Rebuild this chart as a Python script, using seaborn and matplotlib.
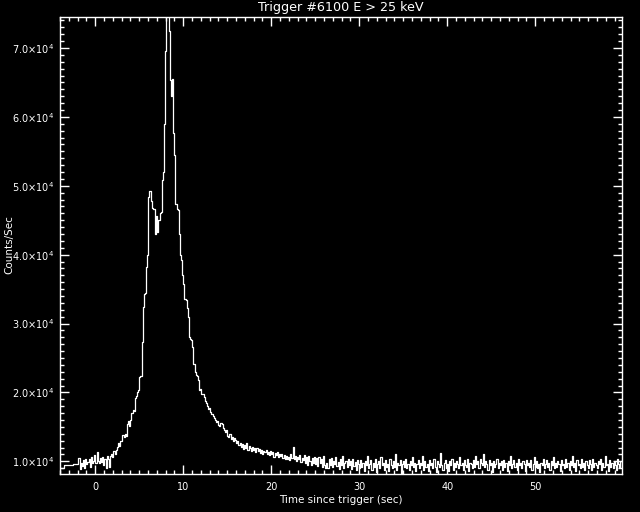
import numpy as np
import pandas as pd
import matplotlib
matplotlib.use("Agg")
import matplotlib.pyplot as plt
from matplotlib.ticker import MultipleLocator, FuncFormatter
import seaborn as sns

# ---- data ----
# coarse pre-trigger bins (start times, counts/sec)
pre_start = [-4.0, -3.6, -2.5]
pre_counts = [9100, 9450, 9600]

# fine bins of 0.128 s starting at -1.9 s
fine_t0 = -1.9
fine_dt = 0.128
fine_counts = [
    10500, 8900, 9700, 9300, 10200, 9000, 10400, 9600, 9900, 10300,
    9200, 10600, 9800, 10100, 10900, 9700, 11300, 10000, 9800, 10500,
    9900, 10700, 9400, 10300, 9100, 10800, 10400, 9200, 10800, 11000,
    10600, 11500, 11000, 11700,
    12100, 12600, 12200, 12900, 13000, 13800, 13500, 14000, 13700, 15400,
    15800, 15200, 16000, 17000, 17400, 17300, 19200, 19500, 20000, 20300,
    22200, 22400, 27300, 32400, 34300, 34500, 38200, 39900, 48400, 49200,
    47800, 46800, 46700, 46600, 43000, 45600, 43300, 45000, 46000, 46200,
    50800, 52000, 59000, 69500, 76000, 75500, 72500, 65300, 63000, 65500,
    57600, 54400, 47400, 46700, 46500, 43000, 39900, 39200, 37000, 35800,
    33600, 33400, 32200, 31000, 28000, 27800, 27600, 26600, 24200, 23000,
    22500, 22400, 21800, 20300, 20500, 19800,
]

# tail bins of 0.128 s starting at 12.18 s
tail_t0 = 12.18
tail_dt = 0.128
tail_counts = [
    19800, 19300, 18700, 18400, 18000, 17600, 17800, 17200, 16900, 16600,
    16300, 16000, 15700, 15900, 15300, 15100, 15600, 15400, 14800, 14600,
    14300, 14500, 13700, 13500, 13900, 13200, 13600, 13000, 13400, 13100,
    12600, 12900, 12300, 12700, 12100, 12500, 11800, 12400, 12000, 12600,
    11700, 12200, 11900, 11500, 12100, 11600, 11900, 11400, 12000, 11500,
    11800, 11200, 11600, 11000, 11500, 11300, 11700, 11100, 11400, 10900,
    11500, 11000, 11300, 10700, 11200, 10900, 11400, 10600, 11000, 10800,
    11000, 10500, 10900, 10300, 10800, 10400, 10700, 10200, 11000, 10500,
    12100, 10300, 10800, 10100, 10600, 10300, 10900, 9900, 10500, 10200,
    10900, 9800, 10600, 9500, 10800, 10100, 9400, 10500, 9700, 10700,
    9600, 10500, 9300, 10600, 9800, 10300, 9200, 10800, 9500, 9100,
    9800, 9000, 10400, 9500, 10500, 9200, 10000, 9600, 10700, 9300,
    9900, 8900, 10300, 9400, 10800, 9100, 9700, 10100, 9200, 10400,
    9500, 10000, 8900, 10300, 9300, 9900, 8800, 10200, 9600, 9100,
    10200, 9200, 9800, 8600, 10000, 9400, 10800, 9000, 9600, 10200,
    8800, 9800, 9200, 10400, 8400, 9600, 10000, 9000, 10600, 9400,
    9800, 8800, 10200, 9200, 9600, 8600, 10400, 9400, 9000, 10000,
    9200, 11000, 8800, 9800, 9400, 10200, 8200, 9600, 10000, 9200,
    10400, 9000, 9600, 8800, 10000, 9400, 10600, 9200, 9800, 8600,
    9600, 10200, 9000, 9800, 9400, 10800, 8800, 10000, 9200, 9600,
    8600, 10200, 9400, 9800, 9000, 10400, 9200, 8400, 10000, 9600,
    9200, 11200, 9400, 8800, 9800, 10200, 9000, 9600, 8600, 10000,
    9400, 10400, 8800, 9800, 9200, 10000, 9600, 9000, 10600, 9400,
    9800, 8800, 10200, 9400, 9200, 10400, 8600, 9800, 9600, 9000,
    10200, 9200, 10800, 9600, 10000, 9000, 10400, 9800, 9400, 11000,
    9200, 10000, 9600, 8800, 10200, 9400, 9800, 8400, 10000, 9200,
    9600, 10400, 9000, 9800, 9400, 10000, 8800, 10200, 9200, 9800,
    8600, 10000, 9400, 10800, 9000, 9600, 10200, 9200, 9800, 8800,
    10400, 9400, 9800, 9000, 10000, 9600, 8600, 10200, 9400, 9800,
    9200, 10200, 8800, 9600, 10600, 9200, 10000, 9000, 9600, 8400,
    9800, 9400, 10400, 9000, 9600, 10200, 9200, 9800, 8800, 10000,
    9400, 10600, 9000, 9800, 9200, 10000, 9600, 8600, 10200, 9400,
    9600, 9000, 10400, 9200, 9800, 8800, 10000, 9400, 10800, 9200,
    9800, 8600, 10200, 9400, 9600, 9000, 10400, 9200, 9800, 8800,
    10000, 9400, 9000, 10200, 9600, 8800, 10400, 9200, 9800, 9400,
    9000, 10000, 9600, 10400, 8800, 9800, 9200, 10800, 9400, 9600,
    8600, 10200, 9200, 9800, 9000, 10000, 9400, 8800, 10400, 9600,
    9200, 10000, 9000, 9800,
]

title = "Trigger #6100 E > 25 keV"
xlabel = "Time since trigger (sec)"
ylabel = "Counts/Sec"

# ---- build step table (bin start times) ----
fine_start = fine_t0 + fine_dt * np.arange(len(fine_counts))
tail_start = tail_t0 + tail_dt * np.arange(len(tail_counts))
t = np.concatenate([pre_start, fine_start, tail_start])
c = np.concatenate([pre_counts, fine_counts, tail_counts]).astype(float)
t_end = tail_start[-1] + tail_dt
t = np.append(t, t_end)
c = np.append(c, c[-1])
df = pd.DataFrame({"time": t, "counts": c})

sns.set_style("dark")
plt.rcParams["font.family"] = ["DejaVu Sans"]

fig = plt.figure(figsize=(6.4, 5.12), dpi=100, facecolor="black")
ax = fig.add_axes([60 / 640, 1 - 474 / 512, 562 / 640, 457 / 512])
ax.set_facecolor("black")

sns.lineplot(data=df, x="time", y="counts", ax=ax, color="white",
             linewidth=0.9, drawstyle="steps-post", estimator=None,
             sort=False)

ax.set_xlim(-4.0, 59.85)
ax.set_ylim(8160, 74500)

ax.xaxis.set_major_locator(MultipleLocator(10))
ax.xaxis.set_minor_locator(MultipleLocator(1))
ax.yaxis.set_major_locator(MultipleLocator(10000))
ax.yaxis.set_minor_locator(MultipleLocator(1000))
ax.yaxis.set_major_formatter(
    FuncFormatter(lambda v, p: f"{v/1e4:.1f}×10$^{{4}}$"))
ax.xaxis.set_major_formatter(FuncFormatter(lambda v, p: f"{v:.0f}"))

ax.tick_params(which="both", direction="in", colors="white",
               top=True, right=True, bottom=True, left=True,
               labelsize=7, width=1.0)
ax.tick_params(which="major", length=6.5)
ax.tick_params(which="minor", length=3.2)
ax.tick_params(axis="x", which="major", pad=6)
ax.tick_params(axis="y", which="major", pad=4)
for s in ax.spines.values():
    s.set_color("white")
    s.set_linewidth(1.0)
ax.grid(False)

ax.set_title(title, color="white", fontsize=9.2, pad=4)
ax.set_xlabel(xlabel, color="white", fontsize=7.5, labelpad=2)
ax.set_ylabel("")
fig.text(9 / 640, 1 - 245 / 512, ylabel, color="white", fontsize=7.5,
         rotation=90, ha="center", va="center")

fig.savefig("out.png", dpi=100, facecolor="black")
